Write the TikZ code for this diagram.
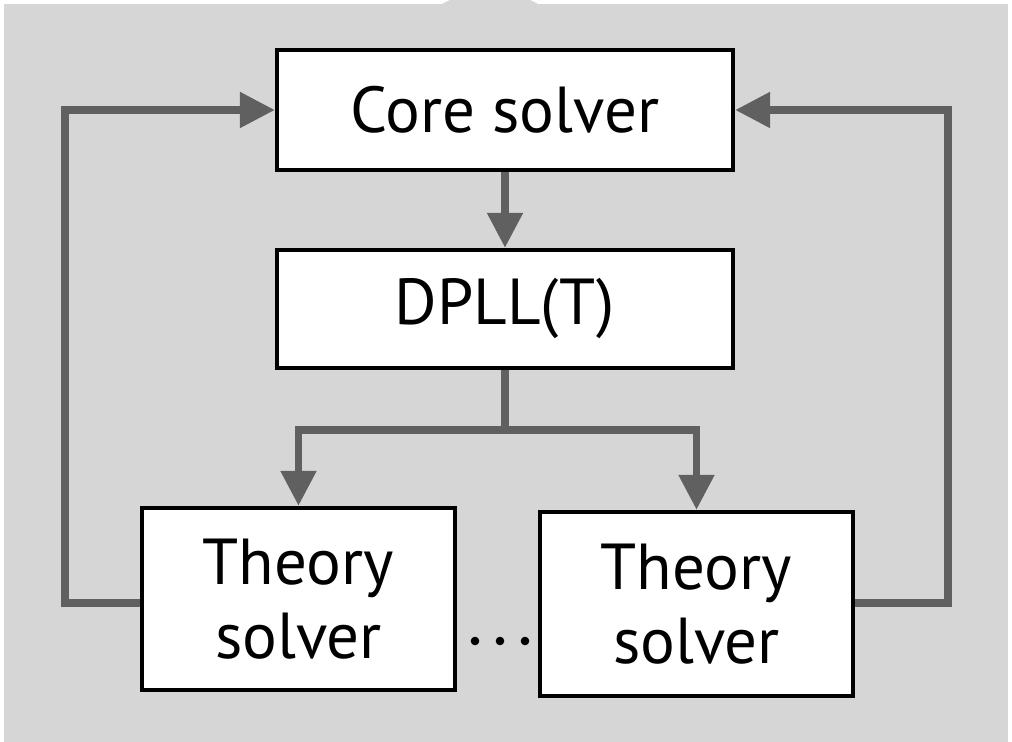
\documentclass[tikz,border=0pt]{standalone}
\usepackage{fontspec}
\setmainfont{PT Sans}
\usetikzlibrary{arrows.meta}
\definecolor{panel}{HTML}{D6D6D6}
\definecolor{wiregray}{HTML}{606060}
\tikzset{
  solverbox/.style={draw=black, line width=2.4pt, fill=white, align=center,
    inner sep=0pt, font=\fontsize{37}{42}\selectfont},
  link/.style={draw=wiregray, line width=4.5pt},
  flow/.style={link, -{Triangle[width=0.68cm,length=0.7cm]}},
}
\begin{document}
\begin{tikzpicture}[x=0.02cm,y=-0.02cm]
	\useasboundingbox (0,0) rectangle (1012,742);
	\fill[panel] (4,4) rectangle (1008,742);
	\fill[panel] (442,4) -- (450,0) -- (530,0) -- (538,4) -- cycle;
	% boxes
	\node[solverbox, minimum width=9.12cm, minimum height=2.4cm] (core) at (505,110) {Core solver};
	\node[solverbox, minimum width=9.12cm, minimum height=2.36cm] (dpll) at (505,309) {DPLL(T)};
	\node[solverbox, minimum width=6.26cm, minimum height=3.64cm] (thl) at (298.5,599) {Theory\\solver};
	\node[solverbox, minimum width=6.26cm, minimum height=3.68cm] (thr) at (696.5,604) {Theory\\solver};
	\coordinate (split) at (505,430);
	\coordinate (lft) at (65,603);
	\coordinate (rgt) at (948,603);
	\foreach \x in {475,500,525} \fill[black] (\x,641) circle (4.3);
	% connectors
	\draw[flow] (core) -- (dpll);
	\draw[link] (dpll.south) -- (split);
	\draw[flow] (split) -| (thl.north);
	\draw[flow] (split) -| (thr.north);
	\draw[flow] (thl.west |- lft) -- (lft) |- (core.west);
	\draw[flow] (thr.east |- rgt) -- (rgt) |- (core.east);
\end{tikzpicture}
\end{document}
